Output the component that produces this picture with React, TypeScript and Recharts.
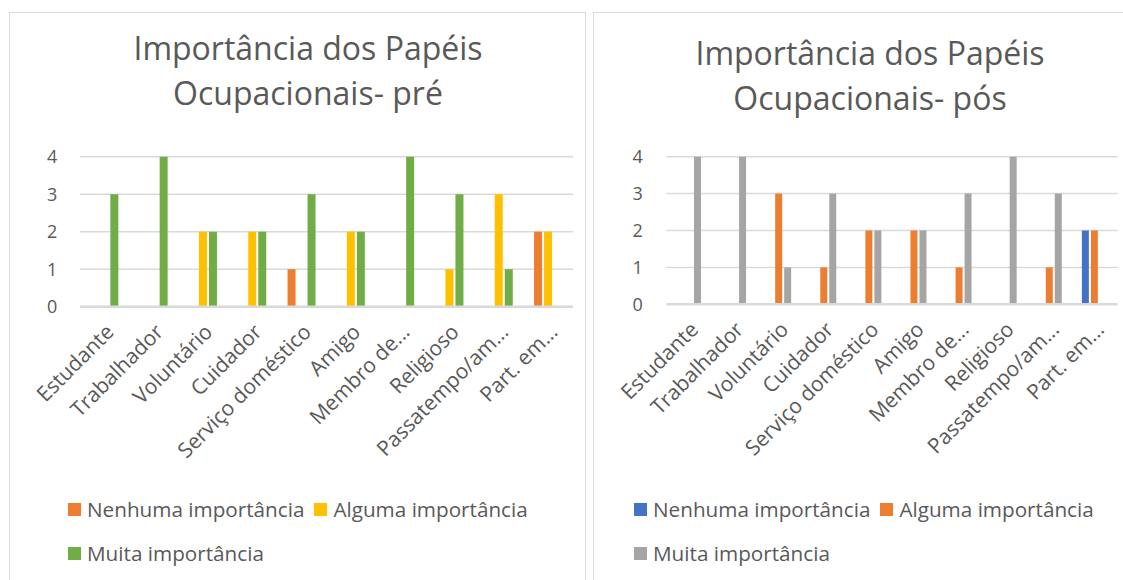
import { BarChart, Bar, XAxis, YAxis, CartesianGrid, Legend } from 'recharts'

const categories = [
  'Estudante',
  'Trabalhador',
  'Voluntário',
  'Cuidador',
  'Serviço doméstico',
  'Amigo',
  'Membro de...',
  'Religioso',
  'Passatempo/am...',
  'Part. em...',
]
const yTicks = [0, 1, 2, 3, 4]

const seriesNames = ['Nenhuma importância', 'Alguma importância', 'Muita importância']

// pré
const preNenhuma = [0, 0, 0, 0, 1, 0, 0, 0, 0, 2]
const preAlguma = [0, 0, 2, 2, 0, 2, 0, 1, 3, 2]
const preMuita = [3, 4, 2, 2, 3, 2, 4, 3, 1, 0]

// pós
const posNenhuma = [0, 0, 0, 0, 0, 0, 0, 0, 0, 2]
const posAlguma = [0, 0, 3, 1, 2, 2, 1, 0, 1, 2]
const posMuita = [4, 4, 1, 3, 2, 2, 3, 4, 3, 0]

const preColors = ['#ED7D31', '#FFC000', '#70AD47']
const posColors = ['#4472C4', '#ED7D31', '#A5A5A5']

const FONT = '"Open Sans", sans-serif'
const TEXT = '#595959'
const GRID = '#d9d9d9'

function buildRows(a: number[], b: number[], c: number[]) {
  return categories.map((name, i) => ({ name, a: a[i], b: b[i], c: c[i] }))
}

function LegendBox({ colors, left }: { colors: string[]; left: number }) {
  const item = (i: number) => (
    <span key={i} style={{ display: 'inline-flex', alignItems: 'center', marginRight: 10 }}>
      <span style={{ width: 13, height: 13, background: colors[i], marginRight: 6, display: 'inline-block' }} />
      {seriesNames[i]}
    </span>
  )
  return (
    <div style={{ height: 83, paddingLeft: left, fontFamily: FONT, fontSize: 20.7, color: TEXT, boxSizing: 'border-box', whiteSpace: 'nowrap' }}>
      <div style={{ height: 38, display: 'flex', alignItems: 'center' }}>
        {item(0)}
        {item(1)}
      </div>
      <div style={{ height: 38, marginTop: 6, display: 'flex', alignItems: 'center' }}>{item(2)}</div>
    </div>
  )
}

interface PanelProps {
  rows: Array<Record<string, string | number>>
  colors: string[]
  width: number
  plotTop: number
  plotBottom: number
  marginLeft: number
  marginRight: number
  tickGap: number
  legendLeft: number
}

function Panel({ rows, colors, width, plotTop, plotBottom, marginLeft, marginRight, tickGap, legendLeft }: PanelProps) {
  const height = 580
  const legendH = 83
  const bottom = 7
  const xH = height - plotBottom - legendH - bottom
  return (
    <BarChart
      width={width}
      height={height}
      data={rows}
      margin={{ top: plotTop, right: marginRight, left: marginLeft, bottom }}
      barCategoryGap="21%"
      barGap={2}
    >
      <CartesianGrid vertical={false} stroke={GRID} strokeWidth={1.5} />
      <XAxis
        dataKey="name"
        interval={0}
        height={xH}
        angle={-45}
        textAnchor="end"
        tickLine={false}
        axisLine={{ stroke: GRID, strokeWidth: 2.5 }}
        tick={{ fontSize: 21, fill: TEXT, fontFamily: FONT }}
        tickMargin={10}
      />
      <YAxis
        width={60}
        domain={[0, 4]}
        ticks={yTicks}
        axisLine={false}
        tickLine={false}
        tickMargin={tickGap}
        tick={{ fontSize: 18, fill: TEXT, fontFamily: FONT }}
      />
      <Legend
        verticalAlign="bottom"
        wrapperStyle={{ left: 0, width }}
        content={() => <LegendBox colors={colors} left={legendLeft} />}
      />
      <Bar dataKey="a" name={seriesNames[0]} fill={colors[0]} isAnimationActive={false} />
      <Bar dataKey="b" name={seriesNames[1]} fill={colors[1]} isAnimationActive={false} />
      <Bar dataKey="c" name={seriesNames[2]} fill={colors[2]} isAnimationActive={false} />
    </BarChart>
  )
}

const titleStyle: React.CSSProperties = {
  position: 'absolute',
  fontFamily: FONT,
  fontSize: 32,
  lineHeight: '45px',
  color: TEXT,
  textAlign: 'center',
  width: 500,
}

export default function App() {
  return (
    <div style={{ position: 'fixed', left: 0, top: 0, width: 1123, height: 580, background: '#fff', overflow: 'hidden' }}>
      <div style={{ position: 'absolute', left: 9, top: 12, width: 577, height: 620, border: `1px solid ${GRID}`, boxSizing: 'border-box' }} />
      <div style={{ position: 'absolute', left: 593, top: 12, width: 560, height: 620, border: `1px solid ${GRID}`, boxSizing: 'border-box' }} />

      <div style={{ position: 'absolute', left: 0, top: 0 }}>
        <Panel
          rows={buildRows(preNenhuma, preAlguma, preMuita)}
          colors={preColors}
          width={580}
          plotTop={156.7}
          plotBottom={306.7}
          marginLeft={20}
          marginRight={7}
          tickGap={16.7}
          legendLeft={68}
        />
      </div>
      <div style={{ position: 'absolute', left: 590, top: 0 }}>
        <Panel
          rows={buildRows(posNenhuma, posAlguma, posMuita)}
          colors={posColors}
          width={533}
          plotTop={156.7}
          plotBottom={304.3}
          marginLeft={16.5}
          marginRight={5.5}
          tickGap={17.8}
          legendLeft={44}
        />
      </div>

      <div style={{ ...titleStyle, left: 58, top: 25 }}>
        Importância dos Papéis
        <br />
        Ocupacionais- pré
      </div>
      <div style={{ ...titleStyle, left: 620, top: 30 }}>
        Importância dos Papéis
        <br />
        Ocupacionais- pós
      </div>
    </div>
  )
}
